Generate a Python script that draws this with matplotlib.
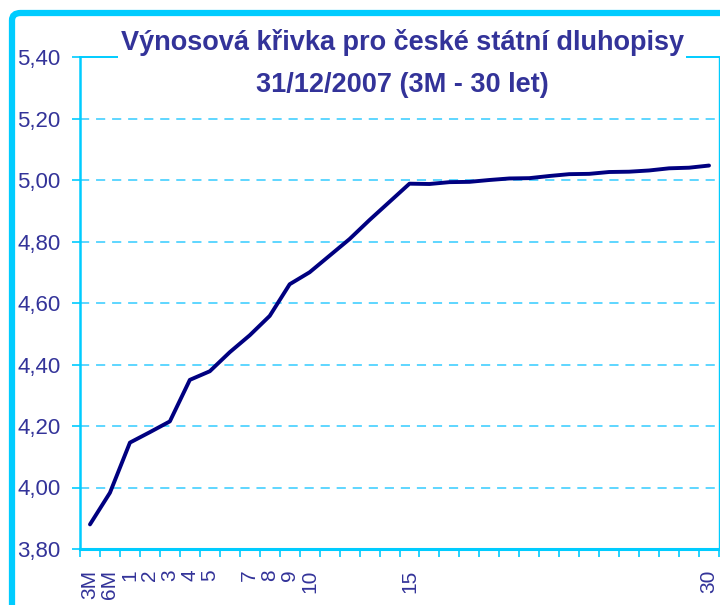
"""
 Title:         Yield curve
 Description:   Czech government bond yield curve, 31/12/2007
"""

# Libraries
import matplotlib
matplotlib.use("Agg")
import matplotlib.pyplot as plt
from matplotlib.patches import FancyBboxPatch
from matplotlib.ticker import FixedLocator, FuncFormatter

# Data
maturities  = ["3M", "6M", "1", "2", "3", "4", "5", "6", "7", "8", "9", "10",
               "11", "12", "13", "14", "15", "16", "17", "18", "19", "20",
               "21", "22", "23", "24", "25", "26", "27", "28", "29", "30"]
tick_labels = ["3M", "6M", "1", "2", "3", "4", "5", "", "7", "8", "9", "10",
               "", "", "", "", "15", "", "", "", "", "",
               "", "", "", "", "", "", "", "", "", "30"]
yields      = [3.880, 3.983, 4.146, 4.180, 4.215, 4.350, 4.378, 4.440, 4.495, 4.558,
               4.661, 4.700, 4.754, 4.808, 4.870, 4.929, 4.988, 4.987, 4.993, 4.994,
               5.000, 5.005, 5.006, 5.013, 5.019, 5.020, 5.026, 5.027, 5.031, 5.038,
               5.040, 5.047]
y_ticks     = [3.80, 4.00, 4.20, 4.40, 4.60, 4.80, 5.00, 5.20, 5.40]

# Constants
FONT        = ["Liberation Sans", "DejaVu Sans"]
CYAN        = "#00CCFF"
GRID_CYAN   = "#33CCFF"
LINE_COLOUR = "#000080"
TEXT_COLOUR = "#333399"
DPI         = 100

plt.rcParams["font.family"] = FONT

fig = plt.figure(figsize=(7.2, 6.05), dpi=DPI)
ax = fig.add_axes([80/720, 1 - 549/605, 639/720, 492/605])

# Outer chart border (cut off by the image edge on the right and bottom)
border = FancyBboxPatch((12/720, -0.2), 1.2, 0.2 + 1 - 13/605,
                        boxstyle="round,pad=0,rounding_size=0.012",
                        transform=fig.transFigure, facecolor="none",
                        edgecolor=CYAN, linewidth=4.5, zorder=0)
fig.patches.append(border)

# Yield curve
x = list(range(len(maturities)))
ax.plot(x, yields, color=LINE_COLOUR, linewidth=2.8, solid_joinstyle="round",
        solid_capstyle="round", zorder=3)

# Limits and grid
ax.set_xlim(-0.5, len(maturities) - 0.5)
ax.set_ylim(y_ticks[0], y_ticks[-1])
for y in y_ticks[1:-1]:
    ax.axhline(y, color=GRID_CYAN, linewidth=1.1, linestyle=(0, (6, 4.5)), zorder=1)

# Spines
for side in ["left", "bottom", "top", "right"]:
    ax.spines[side].set_color(CYAN)
ax.spines["left"].set_linewidth(1.8)
ax.spines["bottom"].set_linewidth(2.2)
ax.spines["top"].set_linewidth(1.4)
ax.spines["right"].set_linewidth(1.0)

# Y axis
ax.set_yticks(y_ticks)
ax.yaxis.set_major_formatter(FuncFormatter(lambda v, p: f"{v:.2f}".replace(".", ",")))
ax.tick_params(axis="y", direction="out", length=6, width=1.2, color=CYAN,
               labelsize=16, labelcolor=TEXT_COLOUR, pad=8)

# X axis: labels centred on categories, tick marks between them
ax.set_xticks(x)
ax.set_xticklabels(tick_labels, rotation=90, va="top", ha="center")
ax.xaxis.set_minor_locator(FixedLocator([i - 0.5 for i in range(len(maturities) + 1)]))
ax.tick_params(axis="x", which="major", length=0, labelsize=15,
               labelcolor=TEXT_COLOUR, pad=15)
ax.tick_params(axis="x", which="minor", direction="out", length=6, width=1.2, color=CYAN)

# Title, with a white box over the top spine
fig.text(0.5585, 1 - 42/605, "Výnosová křivka pro české státní dluhopisy",
         ha="center", va="center", fontsize=19.5, fontweight="bold", color=TEXT_COLOUR,
         bbox=dict(facecolor="white", edgecolor="none", pad=2))
fig.text(0.5585, 1 - 85/605, "31/12/2007 (3M - 30 let)",
         ha="center", va="center", fontsize=19.5, fontweight="bold", color=TEXT_COLOUR)

fig.savefig("out.png", dpi=DPI)
